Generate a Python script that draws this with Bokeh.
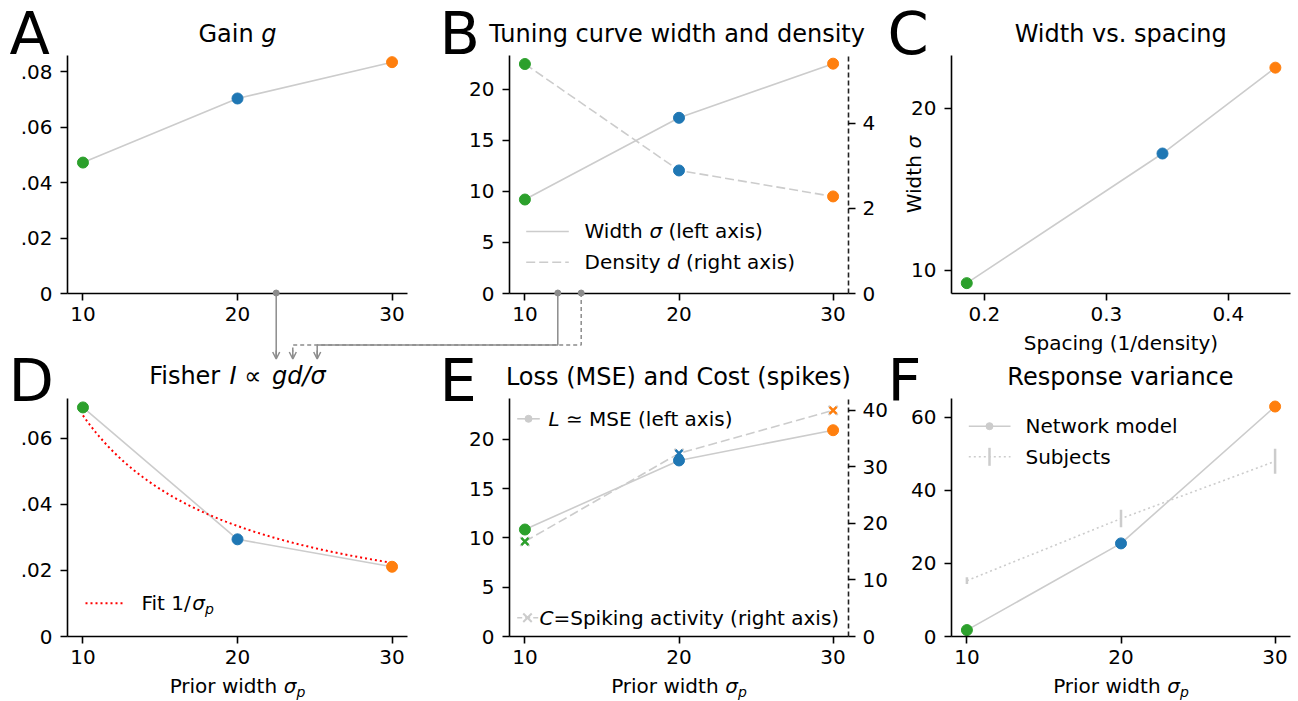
import math
import numpy as np
from bokeh.plotting import figure
from bokeh.models import (Range1d, LinearAxis, FixedTicker, CustomJSTickFormatter,
                          Arrow, OpenHead, InlineStyleSheet, ColumnDataSource)
from bokeh.layouts import column
from bokeh.core.properties import value
from bokeh.embed import file_html
from bokeh.resources import INLINE

# ---------------- data ----------------
prior_width = [10, 20, 30]
point_colors = ["#2ca02c", "#1f77b4", "#ff7f0e"]
gain = [0.0472, 0.0703, 0.0834]
tuning_width = [9.2, 17.2, 22.5]
tuning_density = [5.39, 2.89, 2.28]
spacing = [1.0 / d for d in tuning_density]
fisher_info = [0.0693, 0.0294, 0.0211]
loss_mse = [10.86, 17.87, 20.94]
spike_cost = [16.8, 32.4, 40.0]
model_variance = [1.76, 25.5, 63.0]
subject_variance = [15.3, 32.3, 48.0]
subject_error = [0.9, 2.4, 3.4]

x_tick_values = [10, 20, 30]
gain_ticks = [0, 0.02, 0.04, 0.06, 0.08]
width_ticks = [0, 5, 10, 15, 20]
density_ticks = [0, 2, 4]
spacing_ticks = [0.2, 0.3, 0.4]
width_c_ticks = [10, 20]
fisher_ticks = [0, 0.02, 0.04, 0.06]
loss_ticks = [0, 5, 10, 15, 20]
cost_ticks = [0, 10, 20, 30, 40]
variance_ticks = [0, 20, 40, 60]

# ---------------- style ----------------
FONT = "DejaVu Sans"
LINE_GRAY = "#cccccc"
CONN = "#8c8c8c"
W_PAGE, H_PAGE = 1298, 701
ML, MR, MT, MB = 70, 60, 10, 50
BASE_SHIFT = 0.38   # compensation of the renderer's alphabetic baseline offset (in em)

lead_fmt = CustomJSTickFormatter(code="return tick == 0 ? '0' : tick.toFixed(2).replace(/^0/, '');")


def place(fig, left, top):
    css = (":host { position: absolute !important; left: %dpx !important; top: %dpx !important; }"
           % (left, top))
    fig.stylesheets = [InlineStyleSheet(css=css)]


def style_axis(ax, ticks, fmt=None, standoff=6):
    ax.ticker = FixedTicker(ticks=ticks)
    ax.axis_line_width = 1.6
    ax.axis_line_color = "black"
    ax.major_tick_line_width = 1.6
    ax.major_tick_line_color = "black"
    ax.major_tick_out = 7
    ax.major_tick_in = 0
    ax.minor_tick_out = 0
    ax.minor_tick_in = 0
    ax.major_label_text_font = FONT
    ax.major_label_text_font_size = "20px"
    ax.major_label_text_color = "black"
    ax.major_label_standoff = standoff
    if fmt is not None:
        ax.formatter = fmt


def panel(fx, fy, fw, fh, xr, yr, xticks, yticks, yfmt=None):
    p = figure(frame_width=fw, frame_height=fh, x_range=Range1d(*xr), y_range=Range1d(*yr),
               min_border_left=ML, min_border_right=MR, min_border_top=MT, min_border_bottom=MB,
               toolbar_location=None, output_backend="svg", title=None)
    p.background_fill_color = None
    p.border_fill_color = None
    p.outline_line_color = None
    p.grid.visible = False
    style_axis(p.xaxis[0], xticks, standoff=6)
    style_axis(p.yaxis[0], yticks, yfmt, standoff=8)
    place(p, fx - ML, fy - MT)
    return p


def right_axis(p, name, ticks):
    ax = LinearAxis(y_range_name=name)
    style_axis(ax, ticks, standoff=7)
    ax.axis_line_dash = "5 3"
    ax.axis_line_color = "#222222"
    p.add_layout(ax, "right")


# ---------------- panels ----------------
pA = panel(67, 55, 340, 238, (9, 31), (0, 0.0858), x_tick_values, gain_ticks, lead_fmt)
pA.line(prior_width, gain, line_color=LINE_GRAY, line_width=1.6)
pA.scatter(prior_width, gain, size=11, color=point_colors)

pB = panel(509, 55, 339, 238, (9, 31), (0, 23.3), x_tick_values, width_ticks)
pB.extra_y_ranges = {"dens": Range1d(0, 5.59)}
pB.line(prior_width, tuning_width, line_color=LINE_GRAY, line_width=1.6)
pB.line(prior_width, tuning_density, line_color=LINE_GRAY, line_width=1.6,
        line_dash="9 4", y_range_name="dens")
pB.scatter(prior_width, tuning_width, size=11, color=point_colors)
pB.scatter(prior_width, tuning_density, size=11, color=point_colors, y_range_name="dens")
right_axis(pB, "dens", density_ticks)

pC = panel(951, 55, 339, 238, (0.173, 0.451), (8.56, 23.25), spacing_ticks, width_c_ticks)
pC.line(spacing, tuning_width, line_color=LINE_GRAY, line_width=1.6)
pC.scatter(spacing, tuning_width, size=11, color=point_colors)

pD = panel(67, 398, 340, 238, (9, 31), (0, 0.072), x_tick_values, fisher_ticks, lead_fmt)
pD.line(prior_width, fisher_info, line_color=LINE_GRAY, line_width=1.6)
inv = [1.0 / s for s in prior_width]
fit_c = sum(f * q for f, q in zip(fisher_info, inv)) / sum(q * q for q in inv)
fit_x = np.linspace(min(prior_width), max(prior_width), 120)
pD.line(fit_x, fit_c / fit_x, line_color="red", line_width=2, line_dash="2 3")
pD.scatter(prior_width, fisher_info, size=11, color=point_colors)

pE = panel(509, 398, 339, 238, (9, 31), (0, 24.16), x_tick_values, loss_ticks)
pE.extra_y_ranges = {"cost": Range1d(0, 42.1)}
pE.line(prior_width, spike_cost, line_color=LINE_GRAY, line_width=1.6, line_dash="9 4",
        y_range_name="cost")
pE.line(prior_width, loss_mse, line_color=LINE_GRAY, line_width=1.6)
pE.scatter(prior_width, spike_cost, marker="x", size=13, line_color=LINE_GRAY, line_width=2,
           y_range_name="cost")
pE.scatter(prior_width, spike_cost, marker="x", size=10, line_color=point_colors, line_width=2.5,
           y_range_name="cost")
pE.scatter(prior_width, loss_mse, size=11, color=point_colors)
right_axis(pE, "cost", cost_ticks)

pF = panel(951, 398, 339, 238, (9, 31), (0, 65.2), x_tick_values, variance_ticks)
pF.line(prior_width, subject_variance, line_color=LINE_GRAY, line_width=1.6, line_dash="2 3")
pF.segment(x0=prior_width, y0=[v - e for v, e in zip(subject_variance, subject_error)],
           x1=prior_width, y1=[v + e for v, e in zip(subject_variance, subject_error)],
           line_color=LINE_GRAY, line_width=2.5)
pF.line(prior_width, model_variance, line_color=LINE_GRAY, line_width=1.6)
pF.scatter(prior_width, model_variance, size=11, color=point_colors)

# ---------------- overlay (own root): titles, labels, legends, connectors ----------------
ov = figure(width=W_PAGE, height=H_PAGE,
            x_range=Range1d(0, W_PAGE), y_range=Range1d(0, H_PAGE), min_border=0,
            toolbar_location=None, output_backend="svg", title=None,
            x_axis_type=None, y_axis_type=None)
ov.min_border_left = 0
ov.min_border_right = 0
ov.min_border_top = 0
ov.min_border_bottom = 0
ov.background_fill_color = None
ov.border_fill_color = None
ov.outline_line_color = None
place(ov, 0, 0)


def Y(py):
    return H_PAGE - py


ADV = {" ": .318, "(": .390, ")": .390, ".": .318, "/": .337, "=": .838, "1": .636,
       "A": .684, "B": .686, "C": .698, "D": .770, "E": .632, "F": .575, "G": .775, "I": .295,
       "L": .557, "M": .863, "N": .748, "P": .603, "R": .695, "S": .635, "T": .611, "W": .989,
       "a": .613, "b": .635, "c": .550, "d": .635, "e": .615, "f": .352, "g": .635, "h": .634,
       "i": .278, "k": .579, "l": .278, "m": .974, "n": .634, "o": .612, "p": .635, "r": .411,
       "s": .521, "t": .392, "u": .634, "v": .592, "w": .818, "x": .592, "y": .592,
       "σ": .634, "∝": .838, "≃": .838}


def tw(s, size):
    return sum(ADV.get(ch, 0.6) for ch in s) * size


T = dict(x=[], y=[], text=[], fs=[], fst=[], angle=[])


def put(x, y_px, s, size, style="normal", angle=0.0):
    if angle == 0.0:
        y_px -= BASE_SHIFT * size
    else:
        x -= BASE_SHIFT * size
    T["x"].append(x)
    T["y"].append(Y(y_px))
    T["text"].append(s)
    T["fs"].append("%.1fpx" % size)
    T["fst"].append(style)
    T["angle"].append(angle)


def runs(items, x, y_px, size, anchor="left"):
    widths = [tw(t, size * sc) for (t, st, sc, dy) in items]
    if anchor == "center":
        x -= sum(widths) / 2.0
    for (t, st, sc, dy), w in zip(items, widths):
        lead = tw(t[:len(t) - len(t.lstrip(" "))], size * sc)
        put(x + lead, y_px + dy, t.strip(" "), size * sc, st)
        x += w


N, I = "normal", "italic"

# panel letters
for letter, lx, ly in [("A", 9, 55), ("B", 439, 55), ("C", 887, 55),
                       ("D", 8, 402), ("E", 439, 402), ("F", 887, 402)]:
    put(lx, ly, letter, 59)

# titles
runs([("Gain ", N, 1, 0), ("g", I, 1, 0)], 237, 43, 24, "center")
runs([("Tuning curve width and density", N, 1, 0)], 678.5, 43, 24, "center")
runs([("Width vs. spacing", N, 1, 0)], 1120.5, 43, 24, "center")
runs([("Fisher ", N, 1, 0), ("I", I, 1, 0), (" ∝ ", N, 1, 0), ("gd/σ", I, 1, 0)],
     237, 385, 24, "center")
runs([("Loss (MSE) and Cost (spikes)", N, 1, 0)], 678.5, 386, 24, "center")
runs([("Response variance", N, 1, 0)], 1120.5, 386, 24, "center")

# axis labels
for cx in (237, 678.5, 1120.5):
    runs([("Prior width ", N, 1, 0), ("σ", I, 1, 0), ("p", I, 0.7, 4)], cx, 693, 20, "center")
runs([("Spacing (1/density)", N, 1, 0)], 1120.5, 350, 20, "center")
w1, w2 = tw("Width ", 20), tw("σ", 20)
y0 = 174 + (w1 + w2) / 2.0
put(921, y0, "Width", 20, N, math.pi / 2)
put(921, y0 - w1, "σ", 20, I, math.pi / 2)

# legend texts
runs([("Width ", N, 1, 0), ("σ", I, 1, 0), (" (left axis)", N, 1, 0)], 584, 238.3, 20)
runs([("Density ", N, 1, 0), ("d", I, 1, 0), (" (right axis)", N, 1, 0)], 584, 269, 20)
runs([("Fit 1/", N, 1, 0), ("σ", I, 1, 0), ("p", I, 0.7, 4)], 141, 610, 20)
runs([("L", I, 1, 0), (" ≃ MSE (left axis)", N, 1, 0)], 548, 425.6, 20)
runs([("C", I, 1, 0), ("=Spiking activity (right axis)", N, 1, 0)], 539, 624.6, 20)
runs([("Network model", N, 1, 0)], 1025, 433, 20)
runs([("Subjects", N, 1, 0)], 1025, 463.6, 20)

ov.text(x="x", y="y", text="text", angle="angle", source=ColumnDataSource(T),
        text_font=value(FONT), text_font_size={"field": "fs"}, text_font_style={"field": "fst"},
        text_color="black", text_align="left", text_baseline="alphabetic")

# legend handles
ov.line([525.7, 568.3], [Y(231), Y(231)], line_color=LINE_GRAY, line_width=1.6)
ov.line([525.7, 568.3], [Y(261.7), Y(261.7)], line_color=LINE_GRAY, line_width=1.6, line_dash="9 4")
ov.line([85, 125], [Y(602.7), Y(602.7)], line_color="red", line_width=2, line_dash="2 3")
ov.line([516.7, 539.3], [Y(418.3), Y(418.3)], line_color=LINE_GRAY, line_width=1.6)
ov.scatter([528], [Y(418.3)], size=7, color=LINE_GRAY)
ov.line([516.7, 539.3], [Y(617.3), Y(617.3)], line_color=LINE_GRAY, line_width=1.6, line_dash="5 3")
ov.scatter([527], [Y(617.3)], marker="x", size=12, line_color=LINE_GRAY, line_width=2)
ov.line([968.3, 1010], [Y(425.7), Y(425.7)], line_color=LINE_GRAY, line_width=1.6)
ov.scatter([989], [Y(425.7)], size=7, color=LINE_GRAY)
ov.line([968.3, 1010], [Y(456.3), Y(456.3)], line_color=LINE_GRAY, line_width=1.6, line_dash="2 3")
ov.line([989, 989], [Y(447.3), Y(465.3)], line_color=LINE_GRAY, line_width=2.5)

# connectors from gain / width / density to Fisher title
ov.line([580.7, 580.7, 292.3, 292.3], [Y(292.5), Y(344.5), Y(344.5), Y(356)],
        line_color=CONN, line_width=1.5, line_dash="4 3")
ov.line([557.3, 557.3, 316.7, 316.7], [Y(292.5), Y(344.5), Y(344.5), Y(356)],
        line_color=CONN, line_width=1.5)
ov.line([275.7, 275.7], [Y(292.5), Y(356)], line_color=CONN, line_width=1.5)
for ax_ in (275.7, 292.3, 316.7):
    ov.add_layout(Arrow(end=OpenHead(size=7, line_color=CONN, line_width=1.5),
                        x_start=ax_, y_start=Y(350), x_end=ax_, y_end=Y(358.5),
                        line_color=CONN, line_width=1.5))
ov.scatter([275.7, 557.3, 580.7], [Y(292.5)] * 3, size=6, color=CONN)

root = column(pA, pB, pC, pD, pE, pF, width=W_PAGE, height=H_PAGE)
root.stylesheets = [InlineStyleSheet(css=":host { position: relative !important; }")]

open("out.html", "w").write(file_html([root, ov], INLINE))
